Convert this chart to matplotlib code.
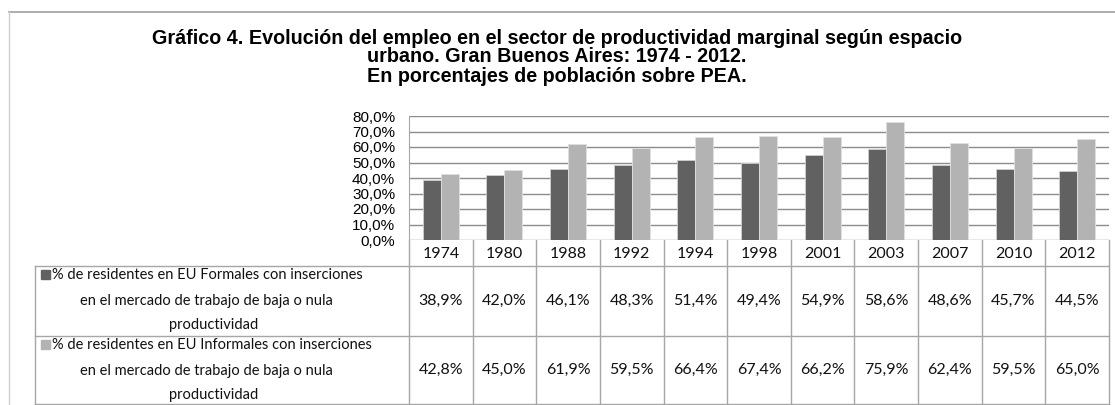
import matplotlib
matplotlib.use("Agg")
import matplotlib.pyplot as plt
import matplotlib.transforms as mtransforms
from matplotlib.patches import Rectangle

years = ["1974", "1980", "1988", "1992", "1994", "1998", "2001", "2003", "2007", "2010", "2012"]
formales = [38.9, 42.0, 46.1, 48.3, 51.4, 49.4, 54.9, 58.6, 48.6, 45.7, 44.5]
informales = [42.8, 45.0, 61.9, 59.5, 66.4, 67.4, 66.2, 75.9, 62.4, 59.5, 65.0]
series_labels = [
    ["% de residentes en EU Formales con inserciones",
     "en el mercado de trabajo de baja o nula", "productividad"],
    ["% de residentes en EU Informales con inserciones",
     "en el mercado de trabajo de baja o nula", "productividad"],
]
title_lines = [
    "Gráfico 4. Evolución del empleo en el sector de productividad marginal según espacio",
    "urbano. Gran Buenos Aires: 1974 - 2012.",
    "En porcentajes de población sobre PEA.",
]

DARK = "#616161"
LIGHT = "#b3b3b3"
GRID = "#8c8c8c"
TBL = "#a6a6a6"
W, H = 1115, 405

fig = plt.figure(figsize=(W / 100, H / 100), dpi=100)

# overlay in pixel coords for table / frame
ov = fig.add_axes([0, 0, 1, 1])
ov.set_xlim(0, W)
ov.set_ylim(H, 0)
ov.axis("off")

# ── bar chart ──────────────────────────────────────────────────────────────────
x0, x1, ytop, ybot = 409, 1109, 116, 240
ax = fig.add_axes([x0 / W, (H - ybot) / H, (x1 - x0) / W, (ybot - ytop) / H])
n = len(years)
idx = list(range(n))
bw = 0.283
ax.bar([i - bw / 2 for i in idx], formales, bw, color=DARK, edgecolor="#d0d0d0", lw=0.6, zorder=3)
ax.bar([i + bw / 2 for i in idx], informales, bw, color=LIGHT, edgecolor="#e0e0e0", lw=0.6, zorder=3)
ax.set_xlim(-0.5, n - 0.5)
ax.set_ylim(0, 80)
ax.set_yticks(range(0, 81, 10))
ax.set_yticklabels([f"{v},0%" for v in range(0, 81, 10)], family="Liberation Sans", fontsize=11)
ax.tick_params(axis="y", length=0, pad=10)
ax.set_xticks([])
for s in ["top", "right", "bottom"]:
    ax.spines[s].set_visible(False)
ax.spines["left"].set_color(TBL)
ax.grid(True, axis="y", color=GRID, lw=1.0, zorder=0)
ax.set_axisbelow(True)

# ── data table ─────────────────────────────────────────────────────────────────
tr = mtransforms.blended_transform_factory(ax.transData, ov.transData)
tl, r1, r2, r3 = 35, 266, 336, 404
kw = dict(color=TBL, lw=1.0)
ov.plot([x0, x0], [ybot, r3], **kw)
for i in range(n):
    ov.plot([i + 0.5, i + 0.5], [ybot, r3], transform=tr, **kw)
for y in (r1, r2, r3):
    ov.plot([tl, x1], [y, y], **kw)
ov.plot([tl, tl], [r1, r3], **kw)

tfont = dict(family="Lato", fontsize=10.5, color="#111111")
nfont = dict(family="Lato", fontsize=11.5, color="#111111")
for i, yr in enumerate(years):
    ov.text(i, (ybot + r1) / 2 + 1, yr, transform=tr, ha="center", va="center", **nfont)
for vals, yc in ((formales, (r1 + r2) / 2), (informales, (r2 + r3) / 2)):
    for i, v in enumerate(vals):
        ov.text(i, yc, f"{v:.1f}%".replace(".", ","), transform=tr, ha="center", va="center", **nfont)

for lines, col, top in ((series_labels[0], DARK, r1), (series_labels[1], LIGHT, r2)):
    ys = [top + 9, top + 35, top + 59]
    ov.add_patch(Rectangle((41, ys[0] - 5), 9, 9, color=col))
    ov.text(52, ys[0], lines[0], ha="left", va="center", **tfont)
    ov.text(206, ys[1], lines[1], ha="center", va="center", **tfont)
    ov.text(214, ys[2], lines[2], ha="center", va="center", **tfont)

# outer frame
ov.plot([9, W], [12, 12], color="#a0a0a0", lw=1.2)
ov.plot([9, 9], [12, H], color="#d0d0d0", lw=1.0)

# title
for k, line in enumerate(title_lines):
    ov.text(557, 38 + 19 * k, line, ha="center", va="center",
            family="Liberation Sans", fontweight="bold", fontsize=14.2)

fig.savefig("out.png", dpi=100)
